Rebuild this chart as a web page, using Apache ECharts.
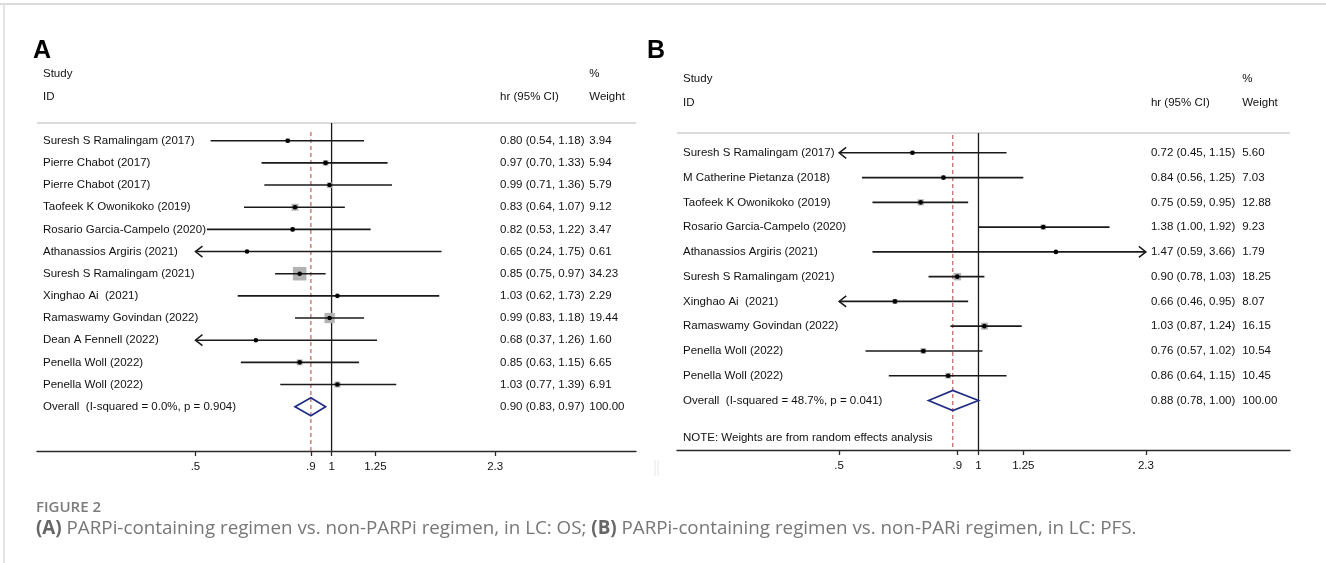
<!DOCTYPE html>
<html><head><meta charset="utf-8">
<script src="https://cdn.jsdelivr.net/npm/echarts@6/dist/echarts.min.js"></script>
<style>html,body{margin:0;padding:0;background:#fff}#c{width:1326px;height:563px}</style>
</head><body><div id="c"></div>
<script>
// ================= DATA =================
const studiesA = ['Suresh S Ramalingam (2017)','Pierre Chabot (2017)','Pierre Chabot (2017)','Taofeek K Owonikoko (2019)','Rosario Garcia-Campelo (2020)','Athanassios Argiris (2021)','Suresh S Ramalingam (2021)','Xinghao Ai  (2021)','Ramaswamy Govindan (2022)','Dean A Fennell (2022)','Penella Woll (2022)','Penella Woll (2022)'];
const hrA     = [0.80, 0.97, 0.99, 0.83, 0.82, 0.65, 0.85, 1.03, 0.99, 0.68, 0.85, 1.03];
const lowA    = [0.54, 0.70, 0.71, 0.64, 0.53, 0.24, 0.75, 0.62, 0.83, 0.37, 0.63, 0.77];
const highA   = [1.18, 1.33, 1.36, 1.07, 1.22, 1.75, 0.97, 1.73, 1.18, 1.26, 1.15, 1.39];
const weightA = ['3.94','5.94','5.79','9.12','3.47','0.61','34.23','2.29','19.44','1.60','6.65','6.91'];
const overallLabelA = 'Overall  (I-squared = 0.0%, p = 0.904)';
const overallA = [0.90, 0.83, 0.97];
const overallWeightA = '100.00';

const studiesB = ['Suresh S Ramalingam (2017)','M Catherine Pietanza (2018)','Taofeek K Owonikoko (2019)','Rosario Garcia-Campelo (2020)','Athanassios Argiris (2021)','Suresh S Ramalingam (2021)','Xinghao Ai  (2021)','Ramaswamy Govindan (2022)','Penella Woll (2022)','Penella Woll (2022)'];
const hrB     = [0.72, 0.84, 0.75, 1.38, 1.47, 0.90, 0.66, 1.03, 0.76, 0.86];
const lowB    = [0.45, 0.56, 0.59, 1.00, 0.59, 0.78, 0.46, 0.87, 0.57, 0.64];
const highB   = [1.15, 1.25, 0.95, 1.92, 3.66, 1.03, 0.95, 1.24, 1.02, 1.15];
const weightB = ['5.60','7.03','12.88','9.23','1.79','18.25','8.07','16.15','10.54','10.45'];
const overallLabelB = 'Overall  (I-squared = 48.7%, p = 0.041)';
const overallB = [0.88, 0.78, 1.00];
const overallWeightB = '100.00';
const noteB = 'NOTE: Weights are from random effects analysis';

const tickValues = [0.5, 0.9, 1, 1.25, 2.3];
const tickLabels = ['.5', '.9', '1', '1.25', '2.3'];
const headerStudy = 'Study', headerId = 'ID', headerHr = 'hr (95% CI)', headerPct = '%', headerWeight = 'Weight';
const captionTitle = 'FIGURE 2';
const captionText = '{b|(A)} PARPi-containing regimen vs. non-PARPi regimen, in LC: OS; {b|(B)} PARPi-containing regimen vs. non-PARi regimen, in LC: PFS.';

// ================= LAYOUT / STYLE =================
const L = Math.log;
const FONT = '"Liberation Sans", Arial, sans-serif';
const CAP_FONT = '"Open Sans", sans-serif';
const X_MIN = -1.5, X_MAX = 1.55;
const CLIP_LO = L(tickValues[0]), CLIP_HI = L(tickValues[tickValues.length - 1]);
const COL_CI = 0.858, COL_W = 1.312;
const panels = [
  {letter:'A', letterX:33, left:37, width:599, top:123, bottom:451, studies:studiesA, hr:hrA, low:lowA, high:highA, weight:weightA,
   overallLabel:overallLabelA, overall:overallA, overallWeight:overallWeightA, note:null, boxK:2.31, diamondH:9, fs:11.5, dashGap:9},
  {letter:'B', letterX:647, left:677, width:613, top:133, bottom:450, studies:studiesB, hr:hrB, low:lowB, high:highB, weight:weightB,
   overallLabel:overallLabelB, overall:overallB, overallWeight:overallWeightB, note:noteB, boxK:1.75, diamondH:10, fs:11.5, dashGap:2}
];

const grids = [], xAxes = [], yAxes = [], series = [];
panels.forEach((p, gi) => {
  const n = p.studies.length;
  const yMin = -0.8, yMax = n + 2;
  grids.push({left:p.left, top:p.top, width:p.width, height:p.bottom - p.top});
  xAxes.push({
    type:'value', gridIndex:gi, min:X_MIN, max:X_MAX, position:'bottom',
    axisLine:{show:true, onZero:false, lineStyle:{color:'#2a2a2a', width:1.4}},
    axisTick:{show:true, customValues:tickValues.map(L), length:5, lineStyle:{color:'#2a2a2a', width:1.3}},
    axisLabel:{show:true, customValues:tickValues.map(L), margin:10, color:'#111', fontSize:p.fs, fontFamily:FONT,
      formatter:(v) => { const i = tickValues.findIndex(t => Math.abs(L(t) - v) < 1e-6); return i >= 0 ? tickLabels[i] : ''; }},
    splitLine:{show:false}
  });
  yAxes.push({type:'value', gridIndex:gi, min:yMin, max:yMax, inverse:true, show:false});

  // separator under header
  series.push({type:'custom', xAxisIndex:gi, yAxisIndex:gi, silent:true, clip:false,
    data:[[X_MIN, yMin, X_MAX]],
    renderItem:(params, api) => {
      const a = api.coord([api.value(0), api.value(1)]), b = api.coord([api.value(2), api.value(1)]);
      return {type:'line', shape:{x1:a[0], y1:a[1], x2:b[0], y2:b[1]}, style:{stroke:'#cfcfcf', lineWidth:1.6}};
    }});

  // reference lines: null line at 1 and dashed line at overall estimate
  series.push({type:'custom', xAxisIndex:gi, yAxisIndex:gi, silent:true, clip:false,
    data:[[L(1), 0], [L(p.overall[0]), 1]],
    renderItem:(params, api) => {
      const x = api.value(0), dashed = api.value(1) === 1;
      const a = api.coord([x, yMin]), b = api.coord([x, yMax]);
      return {type:'line', shape:{x1:a[0], y1:a[1] + (dashed ? p.dashGap : 0), x2:b[0], y2:b[1]},
        style: dashed ? {stroke:'#c0504d', lineWidth:1.1, lineDash:[4, 3]} : {stroke:'#1a1a1a', lineWidth:1.3}};
    }});

  // studies: box, CI line (clipped with arrows), point
  series.push({type:'custom', xAxisIndex:gi, yAxisIndex:gi, silent:true, clip:false,
    data:p.studies.map((s, i) => [L(p.hr[i]), i, L(p.low[i]), L(p.high[i]), parseFloat(p.weight[i])]),
    renderItem:(params, api) => {
      const hr = api.value(0), row = api.value(1), lo = api.value(2), hi = api.value(3), w = api.value(4);
      const c = api.coord([hr, row]);
      const loC = api.coord([Math.max(lo, CLIP_LO), row]), hiC = api.coord([Math.min(hi, CLIP_HI), row]);
      const side = p.boxK * Math.sqrt(w);
      const children = [
        {type:'rect', shape:{x:c[0] - side / 2, y:c[1] - side / 2, width:side, height:side}, style:{fill:'#b3b3b3'}},
        {type:'line', shape:{x1:loC[0], y1:c[1], x2:hiC[0], y2:c[1]}, style:{stroke:'#1a1a1a', lineWidth:1.6}}
      ];
      if (lo < CLIP_LO) children.push({type:'polyline', shape:{points:[[loC[0] + 7, c[1] - 5.5], [loC[0], c[1]], [loC[0] + 7, c[1] + 5.5]]}, style:{stroke:'#1a1a1a', lineWidth:1.5, fill:null}});
      if (hi > CLIP_HI) children.push({type:'polyline', shape:{points:[[hiC[0] - 7, c[1] - 5.5], [hiC[0], c[1]], [hiC[0] - 7, c[1] + 5.5]]}, style:{stroke:'#1a1a1a', lineWidth:1.5, fill:null}});
      children.push({type:'circle', shape:{cx:c[0], cy:c[1], r:2.3}, style:{fill:'#000'}});
      return {type:'group', children};
    }});

  // overall diamond
  series.push({type:'custom', xAxisIndex:gi, yAxisIndex:gi, silent:true, clip:false,
    data:[[L(p.overall[0]), n, L(p.overall[1]), L(p.overall[2])]],
    renderItem:(params, api) => {
      const c = api.coord([api.value(0), api.value(1)]);
      const lo = api.coord([api.value(2), api.value(1)]), hi = api.coord([api.value(3), api.value(1)]);
      const h = p.diamondH;
      return {type:'polygon', shape:{points:[[lo[0], c[1]], [c[0], c[1] - h], [hi[0], c[1]], [c[0], c[1] + h]]},
        style:{stroke:'#1f2d84', lineWidth:1.7, fill:null}};
    }});

  // text columns
  const texts = [];
  texts.push({x:X_MIN, dx:6, row:-3, t:headerStudy});
  texts.push({x:X_MIN, dx:6, row:-2, t:headerId});
  texts.push({x:COL_CI, dx:0, row:-2, t:headerHr});
  texts.push({x:COL_W, dx:0, row:-3, t:headerPct});
  texts.push({x:COL_W, dx:0, row:-2, t:headerWeight});
  p.studies.forEach((s, i) => {
    texts.push({x:X_MIN, dx:6, row:i, t:s});
    texts.push({x:COL_CI, dx:0, row:i, t:p.hr[i].toFixed(2) + ' (' + p.low[i].toFixed(2) + ', ' + p.high[i].toFixed(2) + ')'});
    texts.push({x:COL_W, dx:0, row:i, t:p.weight[i]});
  });
  texts.push({x:X_MIN, dx:6, row:n, t:p.overallLabel});
  texts.push({x:COL_CI, dx:0, row:n, t:p.overall[0].toFixed(2) + ' (' + p.overall[1].toFixed(2) + ', ' + p.overall[2].toFixed(2) + ')'});
  texts.push({x:COL_W, dx:0, row:n, t:p.overallWeight});
  if (p.note) texts.push({x:X_MIN, dx:6, row:n + 1.5, t:p.note});
  series.push({type:'custom', xAxisIndex:gi, yAxisIndex:gi, silent:true, clip:false,
    data:texts.map(t => [t.x, t.row]),
    renderItem:(params, api) => {
      const t = texts[params.dataIndex];
      const c = api.coord([api.value(0), api.value(1)]);
      return {type:'text', x:c[0] + t.dx, y:c[1],
        style:{text:t.t, fill:'#111', fontSize:p.fs, fontFamily:FONT, align:'left', verticalAlign:'middle'}};
    }});
});

const graphics = [
  {type:'line', shape:{x1:0, y1:4, x2:1326, y2:4}, style:{stroke:'#dcdcdc', lineWidth:2}},
  {type:'line', shape:{x1:4, y1:4, x2:4, y2:563}, style:{stroke:'#dcdcdc', lineWidth:1.5}},
  {type:'line', shape:{x1:655, y1:460, x2:655, y2:476}, style:{stroke:'#e6e6e6', lineWidth:1}},
  {type:'line', shape:{x1:658, y1:460, x2:658, y2:476}, style:{stroke:'#e6e6e6', lineWidth:1}},
  {type:'text', x:36, y:508, style:{text:captionTitle, fill:'#7c7c7c', fontSize:15, fontWeight:600, fontFamily:CAP_FONT, verticalAlign:'middle'}},
  {type:'text', x:36, y:529, style:{text:captionText, fill:'#777', fontSize:18.8, fontFamily:CAP_FONT, verticalAlign:'middle',
    rich:{b:{fontWeight:'bold', fill:'#666', fontSize:18.8, fontFamily:CAP_FONT}}}}
];
panels.forEach(p => graphics.push({type:'text', x:p.letterX, y:51, style:{text:p.letter, fill:'#000', fontSize:25, fontWeight:'bold', fontFamily:FONT, verticalAlign:'middle'}}));

const chart = echarts.init(document.getElementById('c'));
chart.setOption({animation:false, grid:grids, xAxis:xAxes, yAxis:yAxes, series, graphic:graphics});
</script></body></html>
